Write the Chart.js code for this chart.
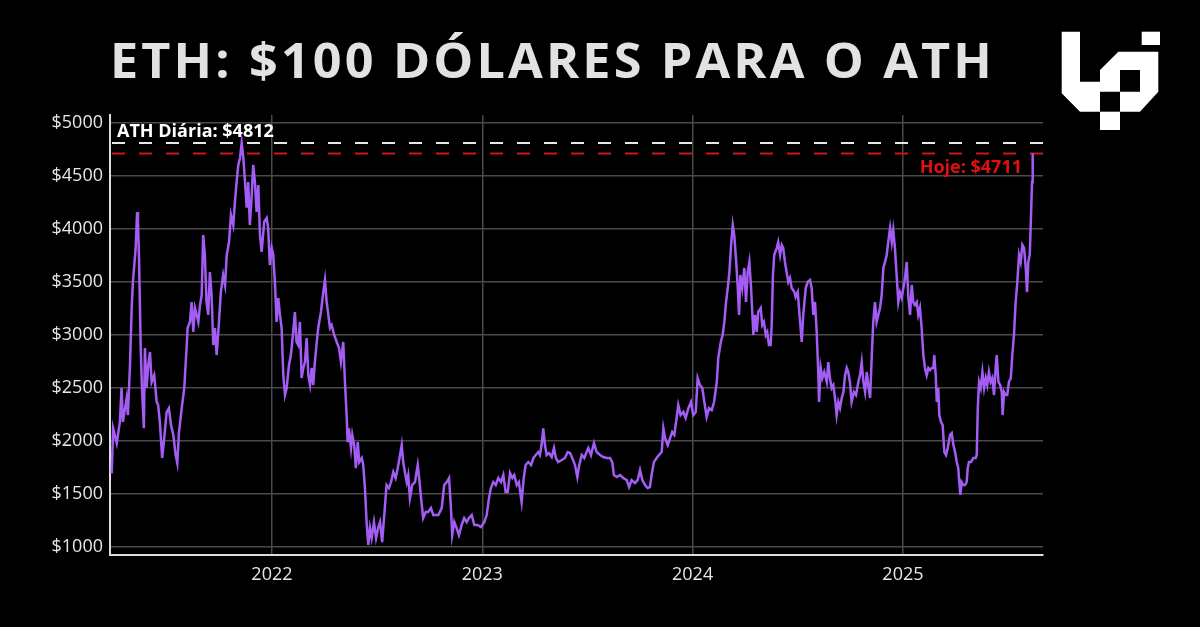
<!DOCTYPE html>
<html>
<head>
<meta charset="utf-8">
<script src="https://cdn.jsdelivr.net/npm/chart.js@4"></script>
<style>
  body { margin: 0; background: #000; }
  #caixa { position: relative; width: 1200px; height: 627px; background: #000; }
  #logo { position: absolute; left: 0; top: 0; }
</style>
</head>
<body>
<div id="caixa">
  <canvas id="grafico" width="1200" height="627"></canvas>
  <svg id="logo" width="1200" height="140" viewBox="0 0 1200 140">
    <g fill="#fff">
      <polygon points="1061.7,31.7 1080,31.7 1080,81.7 1100,81.7 1100,111.7 1080,111.7 1061.7,93.3"/>
      <path fill-rule="evenodd" d="M1100,70 L1118.3,51.7 L1158.3,51.7 L1158.3,91.7 L1140,111.7 L1120,111.7 L1120,91.7 L1100,91.7 Z M1120,70 L1140,70 L1140,91.7 L1120,91.7 Z"/>
      <rect x="1141.7" y="31.7" width="18.3" height="13.3"/>
      <rect x="1100" y="111.7" width="20" height="18.3"/>
    </g>
  </svg>
</div>
<script>
//---------dados (tempo em anos decimais, preço em dólares)

const anos = [
  2021.238, 2021.245, 2021.262, 2021.277, 2021.285, 2021.291, 2021.309, 2021.315, 2021.325, 2021.333,
  2021.339, 2021.352, 2021.359, 2021.363, 2021.368, 2021.376, 2021.382, 2021.391, 2021.396, 2021.404,
  2021.412, 2021.420, 2021.428, 2021.440, 2021.452, 2021.459, 2021.467, 2021.478, 2021.488, 2021.499,
  2021.510, 2021.520, 2021.531, 2021.542, 2021.550, 2021.558, 2021.571, 2021.583, 2021.594, 2021.599,
  2021.610, 2021.618, 2021.626, 2021.634, 2021.642, 2021.650, 2021.658, 2021.666, 2021.673, 2021.681,
  2021.689, 2021.697, 2021.705, 2021.713, 2021.721, 2021.729, 2021.737, 2021.745, 2021.757, 2021.768,
  2021.777, 2021.785, 2021.796, 2021.805, 2021.816, 2021.824, 2021.832, 2021.840, 2021.848, 2021.856,
  2021.864, 2021.872, 2021.880, 2021.887, 2021.895, 2021.903, 2021.911, 2021.919, 2021.927, 2021.935,
  2021.943, 2021.951, 2021.963, 2021.975, 2021.982, 2021.990, 2021.999,
  2022.006, 2022.014, 2022.022, 2022.030, 2022.038, 2022.046, 2022.054, 2022.062, 2022.070, 2022.081,
  2022.090, 2022.101, 2022.109, 2022.117, 2022.125, 2022.133, 2022.141, 2022.149, 2022.157, 2022.165,
  2022.173, 2022.181, 2022.189, 2022.196, 2022.204, 2022.213, 2022.220, 2022.233, 2022.244, 2022.252,
  2022.260, 2022.268, 2022.276, 2022.284, 2022.296, 2022.308, 2022.319, 2022.328, 2022.339, 2022.347,
  2022.355, 2022.360, 2022.366, 2022.376, 2022.382, 2022.391, 2022.399, 2022.408, 2022.415, 2022.427,
  2022.434, 2022.442, 2022.450, 2022.458, 2022.466, 2022.474, 2022.485, 2022.495, 2022.505, 2022.514,
  2022.524, 2022.534, 2022.545, 2022.556, 2022.566, 2022.577, 2022.588, 2022.598, 2022.609, 2022.617,
  2022.624, 2022.632, 2022.641, 2022.648, 2022.656, 2022.667, 2022.680, 2022.693, 2022.700, 2022.709,
  2022.719, 2022.731, 2022.743, 2022.756, 2022.767, 2022.775, 2022.791, 2022.807, 2022.819, 2022.831,
  2022.842, 2022.851, 2022.857, 2022.867, 2022.878, 2022.889, 2022.902, 2022.914, 2022.926, 2022.937,
  2022.950, 2022.962, 2022.978, 2022.994,
  2023.010, 2023.021, 2023.032, 2023.041, 2023.052, 2023.064, 2023.076, 2023.089, 2023.100, 2023.111,
  2023.121, 2023.132, 2023.143, 2023.152, 2023.164, 2023.174, 2023.187, 2023.197, 2023.206, 2023.219,
  2023.232, 2023.243, 2023.254, 2023.266, 2023.274, 2023.282, 2023.290, 2023.298, 2023.306, 2023.317,
  2023.330, 2023.341, 2023.350, 2023.361, 2023.378, 2023.393, 2023.406, 2023.417, 2023.428, 2023.441,
  2023.452, 2023.461, 2023.473, 2023.485, 2023.496, 2023.504, 2023.517, 2023.531, 2023.544, 2023.560,
  2023.575, 2023.592, 2023.607, 2023.618, 2023.626, 2023.639, 2023.655, 2023.670, 2023.687, 2023.698,
  2023.710, 2023.726, 2023.739, 2023.750, 2023.761, 2023.774, 2023.786, 2023.797, 2023.805, 2023.816,
  2023.829, 2023.840, 2023.853, 2023.861, 2023.869, 2023.882, 2023.893, 2023.903, 2023.913, 2023.924,
  2023.932, 2023.943, 2023.956, 2023.967, 2023.980, 2023.992,
  2024.003, 2024.015, 2024.024, 2024.035, 2024.046, 2024.056, 2024.067, 2024.078, 2024.091, 2024.102,
  2024.115, 2024.122, 2024.134, 2024.143, 2024.151, 2024.159, 2024.167, 2024.175, 2024.183, 2024.191,
  2024.198, 2024.206, 2024.214, 2024.221, 2024.227, 2024.236, 2024.246, 2024.254, 2024.262, 2024.270,
  2024.278, 2024.289, 2024.297, 2024.305, 2024.312, 2024.324, 2024.331, 2024.339, 2024.348, 2024.355,
  2024.363, 2024.371, 2024.376, 2024.382, 2024.388, 2024.400, 2024.407, 2024.416, 2024.424, 2024.431,
  2024.439, 2024.447, 2024.455, 2024.463, 2024.471, 2024.484, 2024.490, 2024.500, 2024.511, 2024.519,
  2024.526, 2024.538, 2024.547, 2024.558, 2024.566, 2024.574, 2024.582, 2024.590, 2024.598, 2024.601,
  2024.609, 2024.617, 2024.626, 2024.638, 2024.645, 2024.653, 2024.661, 2024.669, 2024.677, 2024.685,
  2024.693, 2024.701, 2024.709, 2024.717, 2024.725, 2024.733, 2024.740, 2024.748, 2024.756, 2024.767,
  2024.777, 2024.788, 2024.796, 2024.804, 2024.812, 2024.820, 2024.828, 2024.835, 2024.844, 2024.852,
  2024.859, 2024.867, 2024.875, 2024.883, 2024.891, 2024.899, 2024.907, 2024.915, 2024.923, 2024.930,
  2024.939, 2024.947, 2024.954, 2024.962, 2024.970, 2024.978, 2024.986, 2024.994,
  2025.002, 2025.010, 2025.018, 2025.026, 2025.034, 2025.042, 2025.049, 2025.057, 2025.066, 2025.073,
  2025.081, 2025.089, 2025.097, 2025.105, 2025.113, 2025.121, 2025.129, 2025.137, 2025.145, 2025.149,
  2025.156, 2025.161, 2025.168, 2025.173, 2025.181, 2025.189, 2025.197, 2025.205, 2025.213, 2025.224,
  2025.232, 2025.240, 2025.248, 2025.256, 2025.263, 2025.268, 2025.273, 2025.279, 2025.287, 2025.295,
  2025.303, 2025.308, 2025.314, 2025.324, 2025.335, 2025.346, 2025.351, 2025.356, 2025.362, 2025.370,
  2025.378, 2025.386, 2025.394, 2025.401, 2025.409, 2025.417, 2025.425, 2025.433, 2025.441, 2025.446,
  2025.454, 2025.462, 2025.470, 2025.474, 2025.481, 2025.489, 2025.496, 2025.504, 2025.513, 2025.520,
  2025.528, 2025.536, 2025.544, 2025.552, 2025.560, 2025.568, 2025.576, 2025.584, 2025.590, 2025.596,
  2025.603, 2025.609, 2025.614, 2025.617
];

const precos = [
  1695, 2120, 1980, 2180, 2500, 2180, 2400, 2245, 2717, 3255,
  3500, 3820, 4160, 4065, 3725, 2877, 2500, 2120, 2877, 2500,
  2717, 2840, 2557, 2620, 2370, 2340, 2180, 1840, 2030, 2270,
  2310, 2150, 2057, 1870, 1790, 2085, 2310, 2500, 2877, 3066,
  3123, 3311, 3028, 3255, 3190, 3123, 3283, 3377, 3943, 3755,
  3311, 3190, 3594, 3377, 2905, 3066, 2811, 3028, 3405, 3566,
  3472, 3755, 3877, 4132, 4037, 4255, 4443, 4604, 4670, 4812,
  4670, 4443, 4200, 4443, 4037, 4292, 4604, 4443, 4160, 4415,
  3943, 3783, 4066, 4104, 4010, 3660, 3820,
  3755, 3500, 3123, 3349, 3190, 3066, 2620, 2434, 2500, 2717,
  2811, 3028, 3217, 2934, 2905, 3123, 2594, 2689, 2745, 2972,
  2620, 2528, 2689, 2528, 2745, 2934, 3066, 3217, 3405, 3519,
  3311, 3190, 3066, 3094, 3000, 2934, 2877, 2745, 2934, 2557,
  2245, 1990, 2120, 1934, 2057, 1962, 1745, 1990, 1802, 1840,
  1774, 1557, 1236, 1019, 1179, 1085, 1236, 1085, 1179, 1236,
  1047, 1302, 1585, 1557, 1613, 1707, 1651, 1745, 1868, 1962,
  1802, 1707, 1613, 1679, 1462, 1585, 1613, 1774, 1651, 1462,
  1274, 1330, 1330, 1368, 1302, 1302, 1302, 1368, 1585, 1613,
  1651, 1368, 1113, 1236, 1179, 1113, 1208, 1274, 1236, 1274,
  1302, 1208, 1208, 1189,
  1236, 1302, 1462, 1557, 1613, 1585, 1651, 1613, 1679, 1519,
  1519, 1698, 1651, 1679, 1585, 1613, 1425, 1651, 1774, 1802,
  1774, 1840, 1868, 1896, 1868, 1962, 2120, 1962, 1868, 1887,
  1849, 1934, 1840, 1802, 1821, 1840, 1896, 1887, 1840, 1774,
  1660, 1774, 1868, 1840, 1896, 1934, 1868, 1981, 1896, 1868,
  1849, 1840, 1840, 1802, 1679, 1660, 1679, 1651, 1632, 1566,
  1632, 1604, 1632, 1726, 1632, 1585, 1557, 1566, 1679, 1802,
  1840, 1868, 1896, 2120, 2028, 1962, 2028, 2085, 2057, 2217,
  2340, 2245, 2274, 2217, 2311, 2368,
  2245, 2274, 2594, 2528, 2500, 2368, 2226, 2311, 2292, 2368,
  2557, 2783, 2934, 3000, 3123, 3311, 3443, 3594, 3849, 4037,
  3943, 3726, 3472, 3190, 3566, 3443, 3632, 3311, 3594, 3689,
  3443, 3000, 3190, 3028, 3217, 3255, 3094, 3123, 3000, 3028,
  2905, 2905, 3094, 3566, 3755, 3820, 3877, 3755, 3849, 3820,
  3689, 3594, 3500, 3538, 3443, 3405, 3358, 3405, 3123, 2934,
  3190, 3443, 3500, 3519, 3443, 3190, 3311, 3028, 2620, 2368,
  2689, 2594, 2651, 2557, 2745, 2594, 2500, 2528, 2406, 2245,
  2368, 2311, 2406, 2462, 2620, 2689, 2651, 2557, 2368, 2462,
  2434, 2557, 2620, 2745, 2557, 2462, 2651, 2528, 2406, 2811,
  3123, 3311, 3123, 3190, 3255, 3377, 3632, 3689, 3755, 3877,
  4010, 3877, 3990, 3820, 3566, 3311, 3400, 3349,
  3443, 3538, 3689, 3349, 3190, 3472, 3311, 3283, 3311, 3190,
  3255, 3066, 2811, 2689, 2620, 2689, 2670, 2689, 2689, 2811,
  2620, 2368, 2500, 2245, 2180, 2150, 1896, 1868, 1934, 2057,
  2075, 1962, 1896, 1802, 1745, 1613, 1491, 1613, 1585, 1585,
  1613, 1745, 1802, 1802, 1840, 1840, 1868, 2311, 2557, 2500,
  2651, 2500, 2594, 2528, 2651, 2557, 2594, 2434, 2689, 2811,
  2557, 2528, 2462, 2245, 2462, 2434, 2434, 2557, 2594, 2811,
  3000, 3311, 3500, 3755, 3689, 3849, 3820, 3632, 3405, 3689,
  3755, 4132, 4443, 4711
];

const anosEixo = [2022, 2023, 2024, 2025];
const ticksPreco = [1000, 1500, 2000, 2500, 3000, 3500, 4000, 4500, 5000];
const athDiaria = 4812;
const precoHoje = 4711;
const titulo = 'ETH: $100 DÓLARES PARA O ATH';

//---------linhas de referência, textos e título

const pluginReferencias = {
  id: 'referencias',
  beforeDatasetsDraw(chart) {
    const ctx = chart.ctx;
    const area = chart.chartArea;
    const y = chart.scales.y;
    ctx.save();
    ctx.lineWidth = 2;
    ctx.setLineDash([13, 14]);
    ctx.strokeStyle = '#e8e8e8';
    ctx.beginPath();
    ctx.moveTo(area.left + 2, y.getPixelForValue(athDiaria));
    ctx.lineTo(area.right, y.getPixelForValue(athDiaria));
    ctx.stroke();
    ctx.strokeStyle = '#d01515';
    ctx.beginPath();
    ctx.moveTo(area.left + 2, y.getPixelForValue(precoHoje));
    ctx.lineTo(area.right, y.getPixelForValue(precoHoje));
    ctx.stroke();
    ctx.restore();
  },
  afterDatasetsDraw(chart) {
    const ctx = chart.ctx;
    const area = chart.chartArea;
    const y = chart.scales.y;
    ctx.save();
    ctx.font = 'bold 18px "Open Sans"';
    ctx.textBaseline = 'alphabetic';
    ctx.fillStyle = '#ffffff';
    ctx.textAlign = 'left';
    ctx.fillText('ATH Diária: $' + athDiaria, area.left + 7, y.getPixelForValue(athDiaria) - 6);
    ctx.fillStyle = '#e01010';
    ctx.textAlign = 'right';
    ctx.fillText('Hoje: $' + precoHoje, area.right - 21, y.getPixelForValue(precoHoje) + 19);
    ctx.restore();
  },
  afterDraw(chart) {
    const ctx = chart.ctx;
    ctx.save();
    ctx.font = '700 48px "Open Sans"';
    ctx.letterSpacing = '3px';
    ctx.fillStyle = '#e2e2e2';
    ctx.textBaseline = 'alphabetic';
    ctx.textAlign = 'left';
    const largura = ctx.measureText(titulo).width;
    const escala = 885 / largura;
    ctx.translate(110, 78);
    ctx.scale(escala, 1);
    ctx.fillText(titulo, 0, 0);
    ctx.restore();
  }
};

const pontos = anos.map((a, i) => ({ x: a, y: precos[i] }));

new Chart(document.getElementById('grafico'), {
  type: 'line',
  data: {
    datasets: [{
      label: 'ETH',
      data: pontos,
      borderColor: '#a35df5',
      borderWidth: 2.5,
      pointRadius: 0,
      tension: 0
    }]
  },
  options: {
    responsive: false,
    animation: false,
    layout: {
      padding: { top: 115, right: 157, left: 0, bottom: 0 }
    },
    plugins: {
      legend: { display: false },
      tooltip: { enabled: false }
    },
    scales: {
      x: {
        type: 'linear',
        min: 2021.23,
        max: 2025.666,
        afterBuildTicks: (s) => { s.ticks = anosEixo.map(v => ({ value: v })); },
        afterFit: (s) => { s.height = 72; },
        ticks: {
          color: '#e6e6e6',
          font: { family: 'Open Sans', size: 18 },
          padding: 9,
          maxRotation: 0,
          callback: (v) => String(v)
        },
        grid: { color: '#4a4a4a', lineWidth: 1.5, drawTicks: false },
        border: { color: '#dcdcdc', width: 2 }
      },
      y: {
        min: 925,
        max: 5075,
        afterBuildTicks: (s) => { s.ticks = ticksPreco.map(v => ({ value: v })); },
        afterFit: (s) => { s.width = 110; },
        ticks: {
          color: '#e6e6e6',
          font: { family: 'Open Sans', size: 18 },
          padding: 7,
          callback: (v) => '$' + v
        },
        grid: { color: '#4a4a4a', lineWidth: 1.5, drawTicks: false },
        border: { color: '#dcdcdc', width: 2 }
      }
    }
  },
  plugins: [pluginReferencias]
});
</script>
</body>
</html>
